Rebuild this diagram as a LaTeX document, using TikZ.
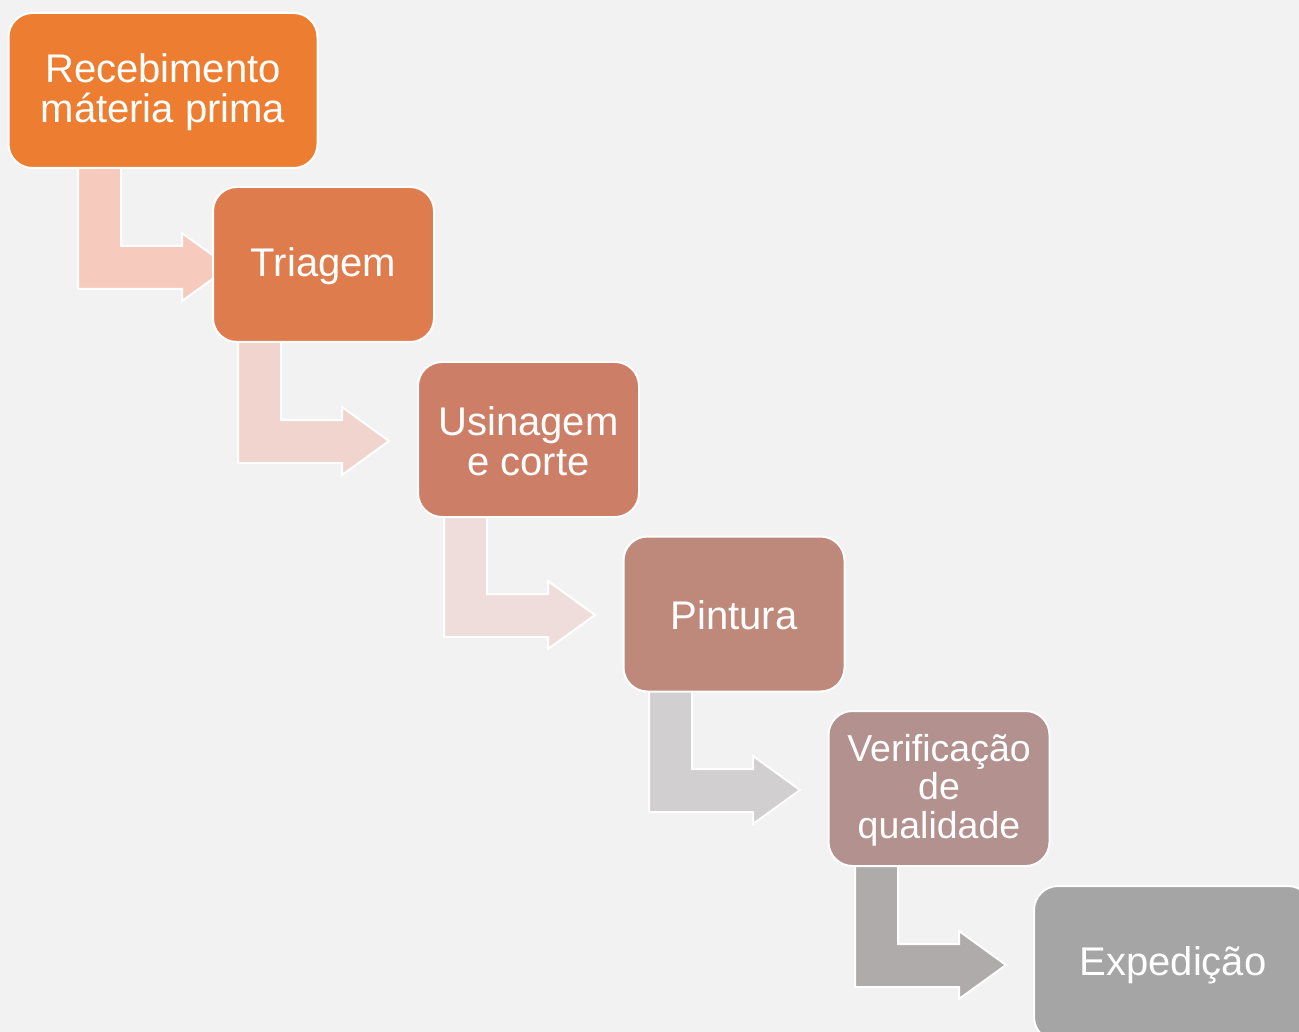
\documentclass[tikz,border=0pt]{standalone}
\usepackage{fontspec}
\setmainfont{Liberation Sans}
\definecolor{bgc}{HTML}{F2F2F2}
\definecolor{c1}{HTML}{ED7D31}
\definecolor{c2}{HTML}{DE7C4D}
\definecolor{c3}{HTML}{CD7E66}
\definecolor{c4}{HTML}{BE887B}
\definecolor{c5}{HTML}{B3918E}
\definecolor{c6}{HTML}{A5A5A5}
\definecolor{a1}{HTML}{F6CBBE}
\definecolor{a2}{HTML}{F2D4CE}
\definecolor{a3}{HTML}{EFDDDB}
\definecolor{a4}{HTML}{D1CFD0}
\definecolor{a5}{HTML}{AFABAA}
\newcommand\bentarrow[4]{% #1 stem left x, #2 band centre y, #3 stem top y, #4 colour
  \draw[arrowbody, fill=#4] (#1,#3) -- (#1+43,#3) -- (#1+43,#2-21) -- (#1+104,#2-21)
    -- (#1+104,#2-34) -- (#1+151,#2) -- (#1+104,#2+34) -- (#1+104,#2+22)
    -- (#1,#2+22) -- cycle;}
\newcommand\lowertext[1]{\raisebox{-1.5pt}[\height][\depth]{#1}}
\tikzset{
  stepbox/.style={rectangle, rounded corners=24pt, draw=white, line width=2pt,
    text=white, align=center, inner sep=0pt, minimum height=155pt,
    minimum width=221pt, font=\fontsize{40}{40}\selectfont},
  arrowbody/.style={draw=white, line width=2pt, line join=miter}
}
\begin{document}
\begin{tikzpicture}[x=1pt,y=-1pt]
\useasboundingbox (0,0) rectangle (1299,1032);
\fill[bgc] (0,0) rectangle (1299,1032);
\clip (0,0) rectangle (1299,1032);
% arrows (drawn under boxes)
\bentarrow{78}{267}{160}{a1}
\bentarrow{238}{441}{335}{a2}
\bentarrow{444}{615}{510}{a3}
\bentarrow{649}{790}{684}{a4}
\bentarrow{855}{965}{859}{a5}
% boxes
\node[stepbox, fill=c1, minimum width=309pt] (b1) at (163,90.5) {\lowertext{\parbox{300pt}{\centering Recebimento\\máteria prima}}};
\node[stepbox, fill=c2] (b2) at (323.5,264.5) {\lowertext{Triagem}};
\node[stepbox, fill=c3] (b3) at (528.5,439.5) {\lowertext{\parbox{215pt}{\centering Usinagem\\e corte}}};
\node[stepbox, fill=c4] (b4) at (734,614) {\lowertext{Pintura}};
\node[stepbox, fill=c5] (b5) at (939,788.5) {\lowertext{\parbox{215pt}{\fontsize{37.5}{38.5}\selectfont\centering Verificação\\de\\qualidade}}};
\node[stepbox, fill=c6, minimum width=278pt] (b6) at (1173,963.5) {\lowertext{Expedição}};
\end{tikzpicture}
\end{document}
